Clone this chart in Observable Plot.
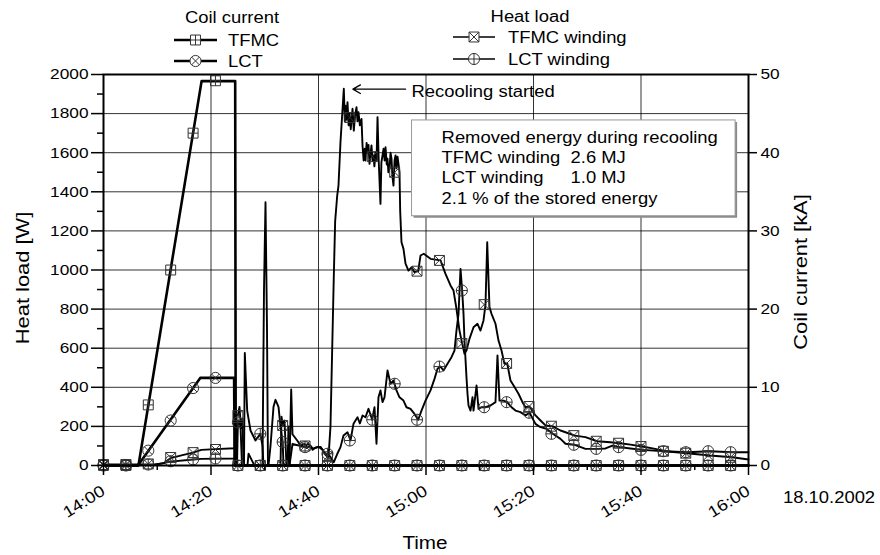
<!DOCTYPE html>
<html><head><meta charset="utf-8">
<script src="https://cdn.jsdelivr.net/npm/d3@7"></script>
<script src="https://cdn.jsdelivr.net/npm/@observablehq/plot@0.6"></script>
<style>
body{margin:0;background:#fff;}
svg{font-family:"Liberation Sans",Arial,sans-serif;}
</style></head><body><div id="chart"></div>
<script>
// time in minutes after 14:00 (18.10.2002)
const tfmcCurT  = [0, 6.5, 18.25, 24.5, 24.6, 120];
const tfmcCurKA = [0, 0, 49.15, 49.15, 0, 0];
const lctCurT   = [0, 6.4, 18.0, 24.3, 24.4, 120];
const lctCurKA  = [0, 0, 11.2, 11.2, 0, 0];

const tfmcWindT = [0,9.5,11.2,12.5,14.5,16.67,18.2,20.83,24.37,24.56,25.0,25.3,25.58,25.86,26.05,26.79,26.98,27.72,28.09,29.58,29.86,30.14,30.42,30.6,32.93,33.12,33.34,33.67,34.05,34.6,34.92,35.16,36.04,36.65,37.4,37.77,38.51,38.9,39.26,40.0,40.74,41.3,41.86,42.23,42.85,43.1,43.48,43.72,44.09,44.71,44.9,45.02,45.2,45.4,45.6,45.77,46.0,46.33,46.57,46.8,47.07,47.25,47.44,47.7,48.0,48.19,48.4,48.6,48.74,48.95,49.12,49.3,49.49,49.7,49.86,50.05,50.23,50.4,50.6,50.8,50.98,51.2,51.53,51.7,51.91,52.1,52.3,52.47,52.7,52.84,53.0,53.21,53.4,53.58,53.75,53.95,54.15,54.33,54.5,54.7,54.88,55.07,55.2,55.44,55.81,56.19,56.74,57.3,57.86,58.55,58.98,59.59,60.84,62.7,63.63,64.56,65.12,65.67,66.23,66.73,67.16,67.53,68.09,68.84,69.58,70.14,70.7,71.07,71.39,71.81,72.19,72.93,73.49,74.05,74.6,75.11,75.72,76.47,77.21,77.95,78.51,79.26,80.37,81.3,82.23,83.59,85.02,85.95,87.68,89.67,91.85,94.3,96.06,98.05,100.22,102.65,104.43,108.6,112.8,116.97,120];
const tfmcWindW = [5,5,12,38,52,66,80,84,88,260,256,300,190,240,0,0,60,20,0,0,900,1347,700,0,0,250,205,230,0,0,389,160,128,102,110,90,100,80,88,96,80,55,40,200,972,1250,1381,1432,1654,1927,1760,1840,1770,1858,1740,1800,1720,1825,1713,1790,1833,1760,1807,1740,1773,1637,1560,1620,1560,1650,1600,1640,1543,1600,1637,1560,1586,1530,1600,1560,1782,1560,1338,1550,1586,1620,1560,1628,1540,1569,1500,1518,1600,1569,1480,1432,1560,1586,1520,1580,1543,1500,1300,1142,1108,1032,997,1014,989,994,1074,1083,1057,1049,980,921,895,801,690,624,571,588,648,707,725,690,742,823,1142,810,776,725,639,588,520,522,435,401,367,324,298,302,256,230,205,200,179,170,153,145,124,119,114,107,97,85,73,63,51,42,31];

const lctWindT = [0,9.5,12.5,16.67,18.2,24.37,24.65,24.84,25.0,25.12,25.49,25.77,26.14,26.29,26.73,27.35,28.28,29.17,29.58,29.77,30.7,31.07,31.63,32.0,32.56,32.93,33.34,33.49,34.23,34.42,34.6,35.16,35.91,36.65,37.5,38.0,38.51,39.0,39.44,40.37,41.3,41.8,42.85,43.5,44.09,44.65,45.4,45.95,46.51,47.26,47.7,48.19,48.74,49.3,49.99,50.42,50.79,51.16,51.53,51.91,52.28,52.84,53.4,53.95,54.51,55.07,55.81,56.37,57.12,57.86,58.55,59.16,59.91,60.84,61.58,62.14,62.7,63.26,64.0,64.74,65.3,65.67,66.05,66.42,66.73,66.98,67.16,67.53,67.72,67.91,68.28,68.65,68.84,69.4,69.77,70.33,71.07,72.0,72.93,73.3,73.67,74.42,75.11,75.91,76.65,77.58,78.51,79.26,80.37,81.3,82.42,83.59,85.02,85.95,87.68,89.67,91.85,93.4,94.7,96.06,98.05,100.22,104.43,108.6,112.8,116.97,120];
const lctWindW = [3,3,20,31,34,36,200,0,220,230,200,0,0,576,281,179,128,162,100,0,0,100,300,336,300,200,120,0,0,200,0,110,105,100,94,112,100,85,92,95,60,60,17,60,94,153,170,128,213,247,215,256,247,290,234,298,111,349,384,324,349,486,418,435,384,349,332,298,290,264,234,281,332,384,443,495,506,486,520,554,588,690,776,1006,895,776,639,452,367,307,281,349,281,409,290,298,298,307,324,563,332,332,324,298,281,273,256,270,213,196,188,162,136,111,106,85,85,87,102,94,87,80,73,68,73,68,68];

// marker samples (every 250 s)
const markT      = [0,4.17,8.33,12.5,16.67,20.83,25,29.17,33.33,37.5,41.67,45.83,50,54.17,58.33,62.5,66.67,70.83,75,79.17,83.33,87.5,91.67,95.83,100,104.17,108.33,112.5,116.67];
const markTfmcKA = [0,0,7.75,25,42.5,49.2,0,0,0,0,0,0,0,0,0,0,0,0,0,0,0,0,0,0,0,0,0,0,0];
const markLctKA  = [0,0,1.9,5.75,9.9,11.2,0,0,0,0,0,0,0,0,0,0,0,0,0,0,0,0,0,0,0,0,0,0,0];
const markTfmcW  = [5,5,8,41,66,82,256,0,205,100,45,1780,1580,1500,994,1049,624,823,522,302,201,153,124,114,97,73,63,51,42];
const markLctW   = [3,3,5,22,31,36,220,162,120,94,60,128,234,418,234,506,895,298,324,270,162,106,85,94,80,73,68,73,68];

const xTicks = [0,20,40,60,80,100,120];
const yTicks = [0,200,400,600,800,1000,1200,1400,1600,1800,2000];
const kATicks = [0,10,20,30,40,50];
const kAPerW = 40; // 50 kA <-> 2000 W

const boxLines = ["Removed energy during recooling","TFMC winding","LCT winding","2.1 % of the stored energy"];
const boxValues = ["","2.6 MJ","1.0 MJ",""];

// build tables
const zip = (T, V, f) => T.map((t, i) => ({t, v: f ? f(V[i]) : V[i]}));
const tfmcCur = zip(tfmcCurT, tfmcCurKA, d => d * kAPerW);
const lctCur = zip(lctCurT, lctCurKA, d => d * kAPerW);
const tfmcWind = zip(tfmcWindT, tfmcWindW);
const lctWind = zip(lctWindT, lctWindW);
const mTfmcCur = zip(markT, markTfmcKA, d => d * kAPerW);
const mLctCur = zip(markT, markLctKA, d => d * kAPerW);
const mTfmcW = zip(markT, markTfmcW);
const mLctW = zip(markT, markLctW);

// custom marker symbols
const sqPlus = {draw(c, size){const s=Math.sqrt(size)/2;c.moveTo(-s,-s);c.lineTo(s,-s);c.lineTo(s,s);c.lineTo(-s,s);c.closePath();c.moveTo(-s,0);c.lineTo(s,0);c.moveTo(0,-s);c.lineTo(0,s);}};
const sqTimes = {draw(c, size){const s=Math.sqrt(size)/2;c.moveTo(-s,-s);c.lineTo(s,-s);c.lineTo(s,s);c.lineTo(-s,s);c.closePath();c.moveTo(-s,-s);c.lineTo(s,s);c.moveTo(s,-s);c.lineTo(-s,s);}};
const ciPlus = {draw(c, size){const s=Math.sqrt(size)/2*1.12;c.moveTo(s,0);c.arc(0,0,s,0,2*Math.PI);c.moveTo(-s,0);c.lineTo(s,0);c.moveTo(0,-s);c.lineTo(0,s);}};
const ciTimes = {draw(c, size){const s=Math.sqrt(size)/2*1.12, d=s*Math.SQRT1_2;c.moveTo(s,0);c.arc(0,0,s,0,2*Math.PI);c.moveTo(-d,-d);c.lineTo(d,d);c.moveTo(d,-d);c.lineTo(-d,d);}};

const fmt = m => `${14 + Math.floor(m/60)}:${String(m % 60).padStart(2,"0")}`;
const R = 5.6;
const mk = (data, symbol) => Plot.dot(data, {x:"t", y:"v", symbol, r:R, fill:"none", stroke:"#333", strokeWidth:1});

const plot = Plot.plot({
  width: 880, height: 555,
  marginLeft: 103, marginRight: 132, marginTop: 74, marginBottom: 90,
  style: {fontFamily: '"Liberation Sans", Arial, sans-serif', fontSize: "16px", background: "white", color: "black"},
  x: {domain: [0, 120], axis: null},
  y: {domain: [0, 2000], axis: null},
  marks: [
    Plot.gridY(yTicks, {stroke: "#000", strokeOpacity: 0.8, strokeWidth: 1}),
    Plot.gridX(xTicks.slice(1, -1), {stroke: "#000", strokeOpacity: 0.8, strokeWidth: 1}),
    Plot.line(tfmcCur, {x: "t", y: "v", stroke: "black", strokeWidth: 2.6}),
    Plot.line(lctCur, {x: "t", y: "v", stroke: "black", strokeWidth: 2.6}),
    Plot.line(tfmcWind, {x: "t", y: "v", stroke: "black", strokeWidth: 1.9, strokeLinejoin: "round"}),
    Plot.line(lctWind, {x: "t", y: "v", stroke: "black", strokeWidth: 1.9, strokeLinejoin: "round"}),
    mk(mTfmcCur, sqPlus),
    mk(mLctCur, ciTimes),
    mk(mTfmcW, sqTimes),
    mk(mLctW, ciPlus),
    // annotation box
    Plot.rect([0], {x1: 57.4, x2: 117.6, y1: 1275, y2: 1765, fill: "#8a8a8a", dx: 2, dy: 2}),
    Plot.rect([0], {x1: 57.4, x2: 117.6, y1: 1275, y2: 1765, fill: "white", stroke: "#999", strokeWidth: 1}),
    Plot.text(boxLines, {x: 62.9, y: (d, i) => 1678 - i * 104, text: d => d, textAnchor: "start", fontSize: 16}),
    Plot.text(boxValues, {x: 86.9, y: (d, i) => 1678 - i * 104, text: d => d, textAnchor: "start", fontSize: 16}),
    Plot.arrow([0], {x1: 56.2, y1: 1925, x2: 46.4, y2: 1925, stroke: "black", strokeWidth: 1.3, headLength: 10}),
    Plot.text(["Recooling started"], {x: 57.3, y: 1909, textAnchor: "start", fontSize: 16}),
    Plot.frame({stroke: "black", strokeWidth: 2}),
    // axes
    Plot.axisY({ticks: yTicks, tickSize: 12, tickPadding: 3, tickFormat: d => String(d), fontSize: 15, label: null, strokeWidth: 1.5}),
    Plot.axisY({ticks: d3.range(100, 2000, 200), tickSize: 6, tickFormat: () => "", label: null, strokeWidth: 1.5}),
    Plot.axisY({anchor: "right", ticks: kATicks.map(d => d * kAPerW), tickFormat: d => String(d / kAPerW), tickSize: 8, tickPadding: 4, fontSize: 15, label: null, strokeWidth: 1.5}),
    Plot.axisX({ticks: xTicks, tickSize: 10, tickPadding: 14, tickRotate: -32, textAnchor: "end", tickFormat: fmt, fontSize: 16, label: null, strokeWidth: 1.5}),
    Plot.axisX({ticks: d3.range(10, 120, 20), tickSize: 5, tickFormat: () => "", label: null, strokeWidth: 1.5})
  ]
});

document.getElementById("chart").appendChild(plot);

// titles and legends
const svg = d3.select(plot);
const g = svg.append("g").attr("font-family", '"Liberation Sans", Arial, sans-serif').attr("fill", "black").attr("text-anchor", "start");
g.append("text").attr("transform", "translate(22,278) rotate(-90)").attr("text-anchor", "middle").attr("dy", "0.35em").attr("font-size", 19).text("Heat load [W]");
g.append("text").attr("transform", "translate(800,272) rotate(-90)").attr("text-anchor", "middle").attr("dy", "0.35em").attr("font-size", 19).text("Coil current [kA]");
g.append("text").attr("x", 425).attr("y", 543).attr("text-anchor", "middle").attr("dy", "0.35em").attr("font-size", 18).text("Time");
g.append("text").attr("x", 783).attr("y", 497).attr("text-anchor", "start").attr("dy", "0.35em").attr("font-size", 16).text("18.10.2002");

function legendRow(x1, x2, y, sym, label, tx, sw) {
  g.append("line").attr("x1", x1).attr("x2", x2).attr("y1", y).attr("y2", y).attr("stroke", "black").attr("stroke-width", sw);
  g.append("path").attr("d", d3.symbol(sym, Math.PI * R * R)()).attr("transform", `translate(${(x1 + x2) / 2},${y})`).attr("fill", "white").attr("stroke", "#333");
  g.append("text").attr("x", tx).attr("y", y).attr("text-anchor", "start").attr("dy", "0.35em").attr("font-size", 16).text(label);
}
g.append("text").attr("x", 232).attr("y", 17).attr("text-anchor", "middle").attr("dy", "0.35em").attr("font-size", 16).text("Coil current");
legendRow(174, 217, 40, sqPlus, "TFMC", 228, 2.6);
legendRow(174, 217, 61, ciTimes, "LCT", 228, 2.6);
g.append("text").attr("x", 530).attr("y", 16).attr("text-anchor", "middle").attr("dy", "0.35em").attr("font-size", 16).text("Heat load");
legendRow(453, 495, 37, sqTimes, "TFMC winding", 508, 1.6);
legendRow(453, 495, 59, ciPlus, "LCT winding", 508, 1.6);

// the original lettering is wider than Liberation Sans: stretch each label along its baseline
svg.selectAll("text").each(function () {
  if (!this.textContent) return;
  const L = this.getComputedTextLength();
  if (L > 0) {
    this.setAttribute("textLength", (L * 1.15).toFixed(1));
    this.setAttribute("lengthAdjust", "spacingAndGlyphs");
  }
});
</script></body></html>
